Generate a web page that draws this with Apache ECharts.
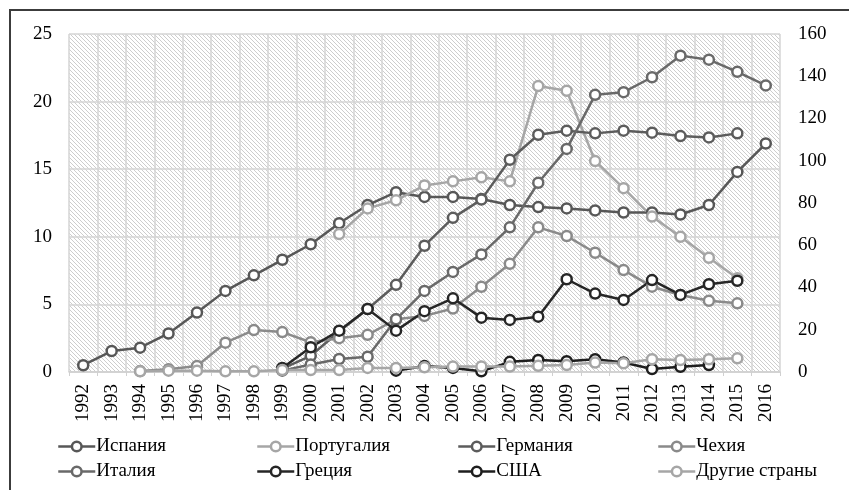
<!DOCTYPE html>
<html>
<head>
<meta charset="utf-8">
<script src="https://cdn.jsdelivr.net/npm/echarts@6/dist/echarts.min.js"></script>
<style>
html, body { margin: 0; padding: 0; background: #fff; }
#chart { width: 849px; height: 490px; }
</style>
</head>
<body>
<div id="chart"></div>
<script>
var years = ['1992', '1993', '1994', '1995', '1996', '1997', '1998', '1999', '2000', '2001', '2002', '2003', '2004',
    '2005', '2006', '2007', '2008', '2009', '2010', '2011', '2012', '2013', '2014', '2015', '2016'];

// values per year, 1992..2016 (null = no point)
var spain = [0.5, 1.55, 1.8, 2.85, 4.4, 6.0, 7.15, 8.3, 9.45, 11.0, 12.35, 13.3, 12.95,
    12.95, 12.8, 12.35, 12.2, 12.1, 11.95, 11.8, 11.8, 11.65, 12.35, 14.8, 16.9];
var portugal = [null, null, null, null, null, null, null, null, null, 10.2, 12.1, 12.7, 13.8,
    14.1, 14.4, 14.1, 21.15, 20.8, 15.6, 13.6, 11.5, 10.0, 8.45, 6.93, null];
var germany = [null, null, null, null, null, null, null, 0.25, 1.2, 3.0, 4.66, 6.45, 9.34,
    11.4, 12.75, 15.7, 17.55, 17.85, 17.65, 17.85, 17.7, 17.45, 17.35, 17.65, null];
var czech = [null, null, 0.07, 0.2, 0.45, 2.17, 3.1, 2.95, 2.2, 2.5, 2.75, 3.9, 4.15,
    4.7, 6.3, 8.0, 10.7, 10.06, 8.82, 7.54, 6.31, 5.7, 5.27, 5.08, null];
var italy = [null, null, null, null, null, null, null, 0.1, 0.55, 0.96, 1.13, 3.9, 6.0,
    7.4, 8.7, 10.7, 14.0, 16.5, 20.5, 20.7, 21.8, 23.4, 23.1, 22.2, 21.2];
var greece = [null, null, null, null, null, null, null, 0.3, 1.83, 3.06, 4.66, 3.06, 4.5,
    5.45, 4.02, 3.85, 4.09, 6.86, 5.8, 5.33, 6.8, 5.7, 6.49, 6.75, null];
var usa = [null, null, null, null, null, null, null, null, null, null, null, 0.1, 0.44,
    0.3, 0.05, 0.75, 0.89, 0.8, 0.94, 0.7, 0.22, 0.39, 0.52, null, null];
var others = [null, null, 0.05, 0.1, 0.1, 0.05, 0.05, 0.15, 0.15, 0.15, 0.3, 0.3, 0.35,
    0.4, 0.4, 0.4, 0.46, 0.52, 0.7, 0.64, 0.94, 0.89, 0.94, 1.01, null];

var names = ['Испания', 'Португалия', 'Германия', 'Чехия', 'Италия', 'Греция', 'США', 'Другие страны'];
var colors = ['#575757', '#a6a6a6', '#5c5c5c', '#8a8a8a', '#696969', '#262626', '#1e1e1e', '#a6a6a6'];
var values = [spain, portugal, germany, czech, italy, greece, usa, others];

var leftTicks = [0, 25, 5];
var rightTicks = [0, 160, 20];

// hatch pattern for the plot background
var hatch = document.createElement('canvas');
hatch.width = 4;
hatch.height = 4;
var hctx = hatch.getContext('2d');
hctx.fillStyle = '#ffffff';
hctx.fillRect(0, 0, 4, 4);
hctx.fillStyle = '#cdcdcd';
for (var i = 0; i < 4; i++) {
    hctx.fillRect(i, i, 1, 1);
}

var font = '"Times New Roman", "Liberation Serif", serif';
var fontSize = 19;

var series = [];
for (var k = 0; k < names.length; k++) {
    series.push({
        name: names[k],
        type: 'line',
        yAxisIndex: 0,
        data: values[k],
        symbol: 'circle',
        symbolSize: 10,
        showAllSymbol: true,
        lineStyle: { width: 2.5, color: colors[k] },
        itemStyle: { color: '#ffffff', borderColor: colors[k], borderWidth: 2.5 },
        emphasis: { disabled: true },
        animation: false
    });
}

// one legend per item, 4 columns x 2 rows
var legendCols = [57, 256, 457, 657];
var legendRows = [437, 462];
var legends = [];
for (var j = 0; j < names.length; j++) {
    legends.push({
        data: [names[j]],
        left: legendCols[j % 4],
        top: legendRows[Math.floor(j / 4)],
        itemWidth: 37,
        itemHeight: 12,
        padding: 0,
        selectedMode: false,
        lineStyle: { width: 2.5 },
        itemStyle: { borderWidth: 2.5 },
        textStyle: { fontFamily: font, fontSize: fontSize, color: '#000', padding: [0, 0, 0, -4] }
    });
}

var chart = echarts.init(document.getElementById('chart'));
chart.setOption({
    animation: false,
    color: colors,
    textStyle: { fontFamily: font },
    grid: {
        left: 69,
        right: 69,
        top: 34,
        bottom: 118,
        show: true,
        borderWidth: 0,
        backgroundColor: { image: hatch, repeat: 'repeat' }
    },
    legend: legends,
    xAxis: {
        type: 'category',
        data: years,
        boundaryGap: true,
        axisLine: { lineStyle: { color: '#d0d0d0', width: 1.5 } },
        axisTick: { show: true, length: 4, lineStyle: { color: '#d0d0d0' } },
        axisLabel: { rotate: 90, fontSize: fontSize, color: '#000', fontFamily: font, margin: 12, interval: 0 },
        splitLine: { show: true, lineStyle: { color: '#d4d4d4', width: 1.5 } }
    },
    yAxis: [{
        type: 'value',
        min: leftTicks[0],
        max: leftTicks[1],
        interval: leftTicks[2],
        axisLine: { show: false },
        axisTick: { show: false },
        axisLabel: { fontSize: fontSize, color: '#000', fontFamily: font, margin: 17 },
        splitLine: { show: true, lineStyle: { color: '#d4d4d4', width: 1.5 } }
    }, {
        type: 'value',
        position: 'right',
        min: rightTicks[0],
        max: rightTicks[1],
        interval: rightTicks[2],
        axisLine: { show: false },
        axisTick: { show: false },
        axisLabel: { fontSize: fontSize, color: '#000', fontFamily: font, margin: 18 },
        splitLine: { show: false }
    }],
    graphic: [{
        type: 'rect',
        shape: { x: 10, y: 10, width: 860, height: 520 },
        style: { fill: 'none', stroke: '#3c3c3c', lineWidth: 2 },
        silent: true,
        z: 100
    }],
    series: series
});
</script>
</body>
</html>
